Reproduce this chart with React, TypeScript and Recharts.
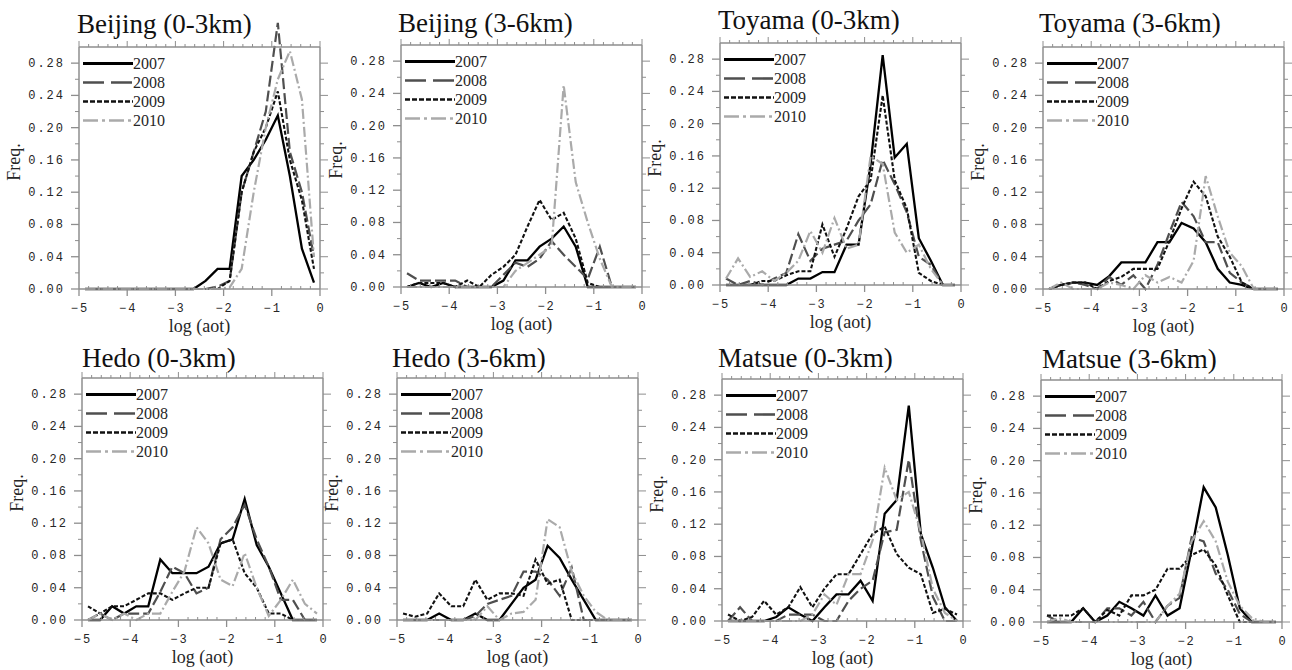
import React from 'react';
import { LineChart, Line, XAxis, YAxis, Legend } from 'recharts';

// ---------- shared axis values ----------
const X_BINS = [-4.875, -4.625, -4.375, -4.125, -3.875, -3.625, -3.375, -3.125, -2.875, -2.625,
  -2.375, -2.125, -1.875, -1.625, -1.375, -1.125, -0.875, -0.625, -0.375, -0.125];
const X_TICKS = [-5, -4.8, -4.6, -4.4, -4.2, -4, -3.8, -3.6, -3.4, -3.2, -3, -2.8, -2.6, -2.4, -2.2,
  -2, -1.8, -1.6, -1.4, -1.2, -1, -0.8, -0.6, -0.4, -0.2, 0];
const Y_TICKS = [0, 0.02, 0.04, 0.06, 0.08, 0.1, 0.12, 0.14, 0.16, 0.18, 0.2, 0.22, 0.24, 0.26, 0.28];
const YEARS = ['2007', '2008', '2009', '2010'];

// ---------- data (frequency per log(aot) bin) ----------
const beijing03_2007 = [0, 0, 0, 0, 0, 0, 0, 0, 0, 0, 0.01, 0.025, 0.025, 0.14, 0.16, 0.185, 0.215, 0.14, 0.05, 0.008];
const beijing03_2008 = [0, 0, 0, 0, 0, 0, 0, 0, 0, 0, 0, 0.003, 0.01, 0.12, 0.17, 0.22, 0.33, 0.17, 0.12, 0.04];
const beijing03_2009 = [0, 0, 0, 0, 0, 0, 0, 0, 0, 0, 0, 0, 0.01, 0.12, 0.17, 0.2, 0.245, 0.16, 0.11, 0.025];
const beijing03_2010 = [0, 0, 0, 0, 0, 0, 0, 0, 0, 0, 0, 0, 0.002, 0.025, 0.12, 0.2, 0.26, 0.295, 0.235, 0.04];

const beijing36_2007 = [0, 0.005, 0, 0.005, 0, 0, 0, 0, 0.008, 0.033, 0.033, 0.05, 0.06, 0.075, 0.05, 0, 0, 0, 0, 0];
const beijing36_2008 = [0.017, 0.008, 0.008, 0.008, 0.008, 0, 0, 0, 0.015, 0.03, 0.025, 0.035, 0.057, 0.04, 0.025, 0.01, 0.05, 0, 0, 0];
const beijing36_2009 = [0, 0.005, 0.005, 0.005, 0, 0.008, 0, 0.015, 0.025, 0.04, 0.075, 0.108, 0.083, 0.092, 0.06, 0.005, 0, 0, 0, 0];
const beijing36_2010 = [0, 0, 0, 0, 0, 0, 0, 0, 0, 0.02, 0.03, 0.04, 0.05, 0.25, 0.13, 0.08, 0.035, 0, 0, 0];

const toyama03_2007 = [0, 0, 0, 0, 0, 0, 0.008, 0.008, 0.016, 0.016, 0.05, 0.05, 0.15, 0.285, 0.158, 0.175, 0.058, 0.03, 0, 0];
const toyama03_2008 = [0.008, 0, 0.005, 0, 0.008, 0.015, 0.063, 0.03, 0.045, 0.05, 0.055, 0.08, 0.1, 0.155, 0.125, 0.09, 0.035, 0.025, 0, 0];
const toyama03_2009 = [0, 0, 0, 0.005, 0.005, 0.012, 0.017, 0.017, 0.075, 0.035, 0.07, 0.11, 0.13, 0.235, 0.13, 0.095, 0.015, 0.005, 0, 0];
const toyama03_2010 = [0.008, 0.033, 0.01, 0.017, 0.005, 0.015, 0.03, 0.067, 0.04, 0.083, 0.045, 0.05, 0.16, 0.15, 0.065, 0.04, 0.05, 0.02, 0, 0];

const toyama36_2007 = [0, 0.005, 0.008, 0.008, 0.005, 0.016, 0.033, 0.033, 0.033, 0.058, 0.058, 0.082, 0.075, 0.058, 0.025, 0.008, 0.005, 0, 0, 0];
const toyama36_2008 = [0, 0.005, 0.008, 0.005, 0, 0.015, 0.005, 0.017, 0, 0.03, 0.07, 0.108, 0.09, 0.058, 0.058, 0.02, 0.008, 0, 0, 0];
const toyama36_2009 = [0, 0.005, 0.008, 0.008, 0, 0.01, 0.015, 0.025, 0.025, 0.025, 0.06, 0.1, 0.133, 0.115, 0.065, 0.04, 0.008, 0, 0, 0];
const toyama36_2010 = [0, 0.008, 0, 0, 0, 0.008, 0.005, 0, 0.017, 0.008, 0.015, 0.008, 0.035, 0.14, 0.09, 0.045, 0.028, 0, 0, 0];

const hedo03_2007 = [0, 0, 0.017, 0.008, 0.017, 0.017, 0.075, 0.058, 0.058, 0.058, 0.066, 0.095, 0.1, 0.15, 0.093, 0.066, 0.033, 0, 0, 0];
const hedo03_2008 = [0, 0.008, 0, 0.008, 0.008, 0.008, 0.035, 0.066, 0.058, 0.033, 0.04, 0.1, 0.115, 0.143, 0.1, 0.066, 0.025, 0.025, 0, 0];
const hedo03_2009 = [0.017, 0.008, 0.017, 0.017, 0.025, 0.033, 0.033, 0.025, 0.033, 0.04, 0.04, 0.095, 0.1, 0.058, 0.04, 0.008, 0.008, 0, 0, 0];
const hedo03_2010 = [0, 0.008, 0, 0.008, 0, 0.008, 0.008, 0.035, 0.06, 0.115, 0.095, 0.05, 0.042, 0.083, 0.04, 0.005, 0.025, 0.05, 0.02, 0.008];

const hedo36_2007 = [0, 0, 0, 0.008, 0, 0, 0.008, 0, 0, 0.02, 0.04, 0.05, 0.092, 0.077, 0.05, 0.025, 0, 0, 0, 0];
const hedo36_2008 = [0, 0, 0, 0, 0, 0, 0.005, 0.02, 0.025, 0.03, 0.06, 0.06, 0.05, 0.03, 0.065, 0, 0, 0, 0, 0];
const hedo36_2009 = [0.008, 0.004, 0.008, 0.033, 0.017, 0.017, 0.05, 0.025, 0.033, 0.033, 0.03, 0.075, 0.045, 0.05, 0, 0, 0, 0, 0, 0];
const hedo36_2010 = [0, 0, 0, 0, 0, 0, 0, 0.017, 0, 0.008, 0.01, 0.025, 0.125, 0.115, 0.06, 0.03, 0.01, 0, 0, 0];

const matsue03_2007 = [0, 0, 0, 0, 0.005, 0.017, 0.008, 0, 0.017, 0.033, 0.033, 0.05, 0.025, 0.133, 0.15, 0.267, 0.108, 0.066, 0.017, 0];
const matsue03_2008 = [0, 0.017, 0, 0, 0, 0.008, 0.008, 0.008, 0, 0, 0.025, 0.04, 0.05, 0.11, 0.113, 0.2, 0.1, 0.03, 0, 0];
const matsue03_2009 = [0.008, 0, 0.005, 0.025, 0.008, 0.017, 0.042, 0.017, 0.04, 0.058, 0.058, 0.083, 0.108, 0.117, 0.083, 0.066, 0.058, 0.01, 0.015, 0.008];
const matsue03_2010 = [0, 0, 0, 0, 0, 0, 0, 0.008, 0.033, 0.02, 0.058, 0.058, 0.1, 0.19, 0.15, 0.16, 0.11, 0.04, 0.01, 0];

const matsue36_2007 = [0, 0, 0, 0.017, 0, 0.008, 0.025, 0.017, 0.008, 0.033, 0.008, 0.017, 0.09, 0.167, 0.142, 0.083, 0.017, 0, 0, 0];
const matsue36_2008 = [0.008, 0, 0, 0, 0, 0.017, 0.017, 0.008, 0.025, 0, 0.02, 0.03, 0.105, 0.1, 0.06, 0.04, 0.01, 0, 0, 0];
const matsue36_2009 = [0.008, 0.008, 0.008, 0.017, 0, 0.015, 0.008, 0.033, 0.033, 0.04, 0.066, 0.066, 0.083, 0.09, 0.07, 0.033, 0, 0, 0, 0];
const matsue36_2010 = [0, 0.005, 0, 0, 0, 0, 0, 0, 0, 0, 0.02, 0.035, 0.1, 0.125, 0.1, 0.05, 0.02, 0.005, 0, 0];

const TITLES = ['Beijing (0-3km)', 'Beijing (3-6km)', 'Toyama (0-3km)', 'Toyama (3-6km)',
  'Hedo (0-3km)', 'Hedo (3-6km)', 'Matsue (0-3km)', 'Matsue (3-6km)'];
const SERIES = [
  [beijing03_2007, beijing03_2008, beijing03_2009, beijing03_2010],
  [beijing36_2007, beijing36_2008, beijing36_2009, beijing36_2010],
  [toyama03_2007, toyama03_2008, toyama03_2009, toyama03_2010],
  [toyama36_2007, toyama36_2008, toyama36_2009, toyama36_2010],
  [hedo03_2007, hedo03_2008, hedo03_2009, hedo03_2010],
  [hedo36_2007, hedo36_2008, hedo36_2009, hedo36_2010],
  [matsue03_2007, matsue03_2008, matsue03_2009, matsue03_2010],
  [matsue36_2007, matsue36_2008, matsue36_2009, matsue36_2010],
];

// ---------- layout & styles ----------
const LAYOUT = [
  { left: 79, top: 47, tdx: -2, tdy: -13 },
  { left: 401, top: 45, tdx: -3, tdy: -12 },
  { left: 720, top: 43, tdx: -2, tdy: -13 },
  { left: 1043, top: 47, tdx: -4, tdy: -14 },
  { left: 82, top: 378, tdx: 0, tdy: -10 },
  { left: 397, top: 378, tdx: -5, tdy: -10 },
  { left: 722, top: 379, tdx: -4, tdy: -11 },
  { left: 1041, top: 380, tdx: 1, tdy: -11 },
];

const LINE_STYLE: Record<string, any> = {
  '2007': { stroke: '#000000', width: 2.3, dash: undefined, legendWidth: 3, legendDash: undefined },
  '2008': { stroke: '#4f4f4f', width: 2.2, dash: '11 4', legendWidth: 2.6, legendDash: '21 7' },
  '2009': { stroke: '#111111', width: 2.1, dash: '4 2', legendWidth: 2.6, legendDash: '5 2' },
  '2010': { stroke: '#aaaaaa', width: 2.2, dash: '10 3 2 3', legendWidth: 2.6, legendDash: '15 4 3 4' },
};

const PW = 241, PH = 242;
const YL_W = 60, YL_M = 22;
const YR_W = 10, YR_M = 6;
const XT_H = 10, XT_M = 22;
const XB_H = 40, XB_M = 12;
const OFF_L = YL_W + YL_M;
const OFF_T = XT_H + XT_M;
const CW = OFF_L + PW + YR_W + YR_M;
const CH = OFF_T + PH + XB_H + XB_M;

const FRAME = '#8e8e8e';
const TXT = '#262626';
const MONO = 'Liberation Mono, DejaVu Sans Mono, monospace';
const SERIF = 'Liberation Serif, Times New Roman, serif';

const isMajor = (v: number, step: number) => Math.abs(v / step - Math.round(v / step)) < 1e-6;
const fmtX = (v: number) => (v < 0 ? '\u2212' + Math.abs(v) : '0');

function BottomTick(props: any) {
  const { x, y, payload } = props;
  const v = payload.value;
  if (isMajor(v, 1)) {
    return (
      <g>
        <line x1={x} x2={x} y1={y} y2={y + 7} stroke={FRAME} strokeWidth={1.3} />
        <text x={x + 1} y={y + 23} textAnchor="middle" fontFamily={MONO} fontSize={12} letterSpacing={2} fill={TXT}>
          {fmtX(v)}
        </text>
      </g>
    );
  }
  return <line x1={x} x2={x} y1={y} y2={y - 3} stroke={FRAME} strokeWidth={1} />;
}

function TopTick(props: any) {
  const { x, y, payload } = props;
  const len = isMajor(payload.value, 1) ? 6 : 3;
  return <line x1={x} x2={x} y1={y} y2={y - len} stroke={FRAME} strokeWidth={1} />;
}

function LeftTick(props: any) {
  const { x, y, payload } = props;
  const v = payload.value;
  if (isMajor(v, 0.04)) {
    return (
      <g>
        <line x1={x} x2={x - 8} y1={y} y2={y} stroke={FRAME} strokeWidth={1.3} />
        <text x={x - 14} y={y + 4} textAnchor="end" fontFamily={MONO} fontSize={12} letterSpacing={2} fill={TXT}>
          {v.toFixed(2)}
        </text>
      </g>
    );
  }
  return <line x1={x} x2={x - 4} y1={y} y2={y} stroke={FRAME} strokeWidth={1} />;
}

function RightTick(props: any) {
  const { x, y, payload } = props;
  const len = isMajor(payload.value, 0.04) ? 8 : 4;
  return <line x1={x} x2={x + len} y1={y} y2={y} stroke={FRAME} strokeWidth={1} />;
}

function LegendContent(props: any) {
  const { payload } = props;
  return (
    <div>
      {(payload || []).map((e: any) => {
        const st = LINE_STYLE[e.value];
        return (
          <div key={e.value} style={{ display: 'flex', alignItems: 'center', height: 19 }}>
            <svg width={50} height={19} style={{ display: 'block' }}>
              <line x1={0} x2={50} y1={9.5} y2={9.5} stroke={st.stroke} strokeWidth={st.legendWidth}
                strokeDasharray={st.legendDash} />
            </svg>
            <span style={{ fontFamily: SERIF, fontSize: 16, lineHeight: '19px', color: TXT }}>{e.value}</span>
          </div>
        );
      })}
    </div>
  );
}

function Panel({ idx }: { idx: number }) {
  const lay = LAYOUT[idx];
  const s = SERIES[idx];
  const data = X_BINS.map((x, i) => ({ x, y2007: s[0][i], y2008: s[1][i], y2009: s[2][i], y2010: s[3][i] }));
  const frameLine = { stroke: FRAME, strokeWidth: 1.5 };
  return (
    <>
      <div
        style={{
          position: 'absolute', left: lay.left + lay.tdx, top: lay.top + lay.tdy - 22.6,
          fontFamily: SERIF, fontSize: 27, lineHeight: '27px', color: '#111', whiteSpace: 'nowrap',
        }}
      >
        {TITLES[idx]}
      </div>
      <div style={{ position: 'absolute', left: lay.left - OFF_L, top: lay.top - OFF_T, width: CW, height: CH }}>
        <LineChart width={CW} height={CH} data={data} margin={{ top: XT_M, right: YR_M, bottom: XB_M, left: YL_M }}>
          <XAxis xAxisId="b" orientation="bottom" type="number" dataKey="x" domain={[-5, 0]} allowDataOverflow
            ticks={X_TICKS} interval={0} height={XB_H} tickSize={0} tickMargin={0} tickLine={false}
            axisLine={frameLine} tick={(p: any) => <BottomTick {...p} />}
            label={{ value: 'log (aot)', position: 'center', dy: 37 - XB_H / 2, fill: TXT, fontSize: 18, fontFamily: SERIF }} />
          <XAxis xAxisId="t" orientation="top" type="number" dataKey="x" domain={[-5, 0]} allowDataOverflow
            ticks={X_TICKS} interval={0} height={XT_H} tickSize={0} tickMargin={0} tickLine={false}
            axisLine={frameLine} tick={(p: any) => <TopTick {...p} />} />
          <YAxis yAxisId="l" orientation="left" type="number" domain={[0, 0.3]} allowDataOverflow
            ticks={Y_TICKS} interval={0} width={YL_W} tickSize={0} tickMargin={0} tickLine={false}
            axisLine={frameLine} tick={(p: any) => <LeftTick {...p} />}
            label={{ value: 'Freq.', angle: -90, position: 'center', dx: (OFF_L - 65) - (YL_M + YL_W / 2), dy: -6, fill: TXT, fontSize: 18, fontFamily: SERIF }} />
          <YAxis yAxisId="r" orientation="right" type="number" domain={[0, 0.3]} allowDataOverflow
            ticks={Y_TICKS} interval={0} width={YR_W} tickSize={0} tickMargin={0} tickLine={false}
            axisLine={frameLine} tick={(p: any) => <RightTick {...p} />} />
          <Legend layout="vertical" align="center" verticalAlign="middle"
            wrapperStyle={{ left: OFF_L + 4, top: OFF_T + 16 - 9.5 }} content={(p: any) => <LegendContent {...p} />} />
          {YEARS.map((yr) => {
            const st = LINE_STYLE[yr];
            return (
              <Line key={yr} xAxisId="b" yAxisId="l" type="linear" dataKey={'y' + yr} name={yr}
                stroke={st.stroke} strokeWidth={st.width} strokeDasharray={st.dash}
                dot={false} activeDot={false} isAnimationActive={false} />
            );
          })}
        </LineChart>
      </div>
    </>
  );
}

export default function App() {
  return (
    <div style={{ position: 'absolute', left: 0, top: 0, width: 1292, height: 670, background: '#fff', overflow: 'hidden' }}>
      <style>{'.recharts-line [clip-path], .recharts-line[clip-path] { clip-path: none !important; }'}</style>
      {TITLES.map((_, i) => (
        <Panel key={i} idx={i} />
      ))}
    </div>
  );
}
